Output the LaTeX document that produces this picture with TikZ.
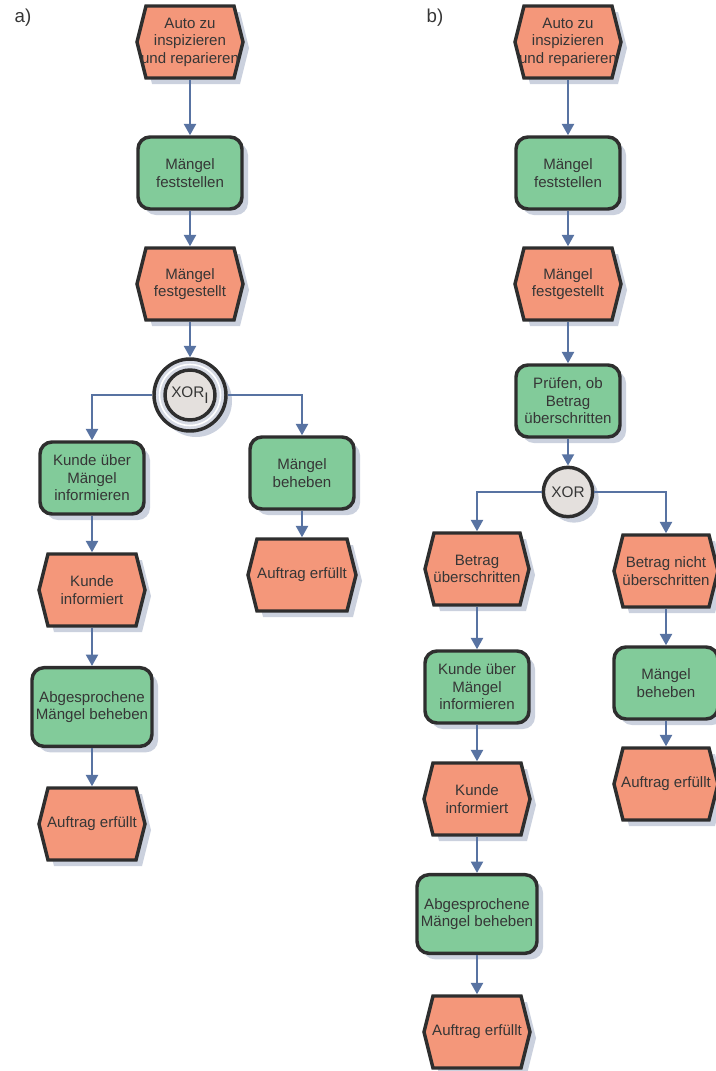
\documentclass[tikz,border=0pt]{standalone}
\usepackage{fontspec}
\setmainfont{Liberation Sans}
\usetikzlibrary{arrows.meta}

\definecolor{evtfill}{HTML}{F4977A}
\definecolor{fnfill}{HTML}{82CB9A}
\definecolor{edge}{HTML}{2E2E2E}
\definecolor{flow}{HTML}{5873A2}
\definecolor{txt}{HTML}{363636}
\definecolor{shade}{HTML}{CBD1DE}
\definecolor{xorfill}{HTML}{E4E0DD}
\definecolor{ring}{HTML}{D6DAE4}

\tikzset{
  lbl/.style={font=\fontsize{11.3}{13.2}\selectfont, text=txt, align=center},
  shadowed/.style={preaction={fill=shade, transform canvas={shift={(4.5pt,-4.5pt)}}}},
  fn/.style={lbl, draw=edge, line width=2.6pt, fill=fnfill, rounded corners=9pt,
    minimum width=78pt, minimum height=54pt, inner sep=0pt, shadowed},
  fnwide/.style={fn, minimum width=90pt, minimum height=59pt},
  evtshape/.style={draw=edge, fill=evtfill, line width=2.6pt, line join=miter, shadowed},
  evt/.style={lbl, minimum height=54pt, inner sep=0pt, outer sep=1.3pt},
  xorouter/.style={circle, draw=edge, line width=2.6pt, fill=ring, minimum size=54pt,
    inner sep=0pt, shadowed},
  xorinner/.style={lbl, circle, draw=edge, line width=2.6pt, fill=xorfill, minimum size=37.5pt,
    inner sep=0pt, font=\fontsize{11.5}{13}\selectfont},
  flowline/.style={draw=flow, line width=1.6pt, -{Triangle[width=9pt,length=8.5pt]}},
  tag/.style={font=\fontsize{14}{16}\selectfont, text=txt, anchor=west},
}

% event: name, centre x, centre y, full width (px), text
\newcommand\evtnode[5]{%
  \path[evtshape] ({#2-#4/2},{#3}) -- ({#2-#4/2+9},{#3-36}) -- ({#2+#4/2-9},{#3-36})
    -- ({#2+#4/2},{#3}) -- ({#2+#4/2-9},{#3+36}) -- ({#2-#4/2+9},{#3+36}) -- cycle;
  \node[evt, minimum width={(#4-18)*0.75pt}] (#1) at (#2,#3) {#5};
}

\begin{document}
\begin{tikzpicture}[x=0.75pt, y=-0.75pt]
\useasboundingbox (0,0) rectangle (715,1071);

\node[tag] (ta) at (10,18) {a)};
\node[tag] (tb) at (422,18) {b)};

% ---- variant a
\evtnode{a1}{190}{42}{106}{Auto zu\\inspizieren\\und reparieren}
\node[fn] (a2) at (190,173) {Mängel\\feststellen};
\evtnode{a3}{190}{284}{106}{Mängel\\festgestellt}
\node[xorouter] (xa) at (190,395) {};
\draw[white, line width=1.2pt] (xa.center) circle (30.5);
\node[xorinner] (xai) at (190,395) {XOR\raisebox{-0.7ex}{I}};
\node[fn] (a4) at (92,478) {Kunde über\\Mängel\\informieren};
\node[fn] (a5) at (302,473) {Mängel\\beheben};
\evtnode{a6}{302}{575}{108}{Auftrag erfüllt}
\evtnode{a7}{92}{590}{106}{Kunde\\informiert}
\node[fnwide] (a8) at (92,707) {Abgesprochene\\Mängel beheben};
\evtnode{a9}{92}{824}{106}{Auftrag erfüllt}

% ---- variant b
\evtnode{b1}{568}{42}{106}{Auto zu\\inspizieren\\und reparieren}
\node[fn] (b2) at (568,173) {Mängel\\feststellen};
\evtnode{b3}{568}{284}{106}{Mängel\\festgestellt}
\node[fn] (b4) at (568,401) {Prüfen, ob\\Betrag\\überschritten};
\node[xorinner, minimum size=37pt, shadowed] (xb) at (568,492) {XOR};
\evtnode{b5}{477}{569}{104}{Betrag\\überschritten}
\evtnode{b6}{666}{571}{104}{Betrag nicht\\überschritten}
\node[fn] (b7) at (477,687) {Kunde über\\Mängel\\informieren};
\node[fn] (b8) at (666,683) {Mängel\\beheben};
\evtnode{b9}{666}{784}{104}{Auftrag erfüllt}
\evtnode{b10}{477}{799}{106}{Kunde\\informiert}
\node[fnwide] (b11) at (477,914) {Abgesprochene\\Mängel beheben};
\evtnode{b12}{477}{1032}{106}{Auftrag erfüllt}

% ---- control flow
\draw[flowline] (a1) -- (a2);
\draw[flowline] (a2) -- (a3);
\draw[flowline] (a3) -- (xa);
\draw[flowline] (xa.west) -| (a4.north);
\draw[flowline] (xa.east) -| (a5.north);
\draw[flowline] (a5) -- (a6);
\draw[flowline] (a4) -- (a7);
\draw[flowline] (a7) -- (a8);
\draw[flowline] (a8) -- (a9);

\draw[flowline] (b1) -- (b2);
\draw[flowline] (b2) -- (b3);
\draw[flowline] (b3) -- (b4);
\draw[flowline] (b4) -- (xb);
\draw[flowline] (xb.west) -| (b5.north);
\draw[flowline] (xb.east) -| (b6.north);
\draw[flowline] (b5) -- (b7);
\draw[flowline] (b7) -- (b10);
\draw[flowline] (b10) -- (b11);
\draw[flowline] (b11) -- (b12);
\draw[flowline] (b6) -- (b8);
\draw[flowline] (b8) -- (b9);
\end{tikzpicture}
\end{document}
